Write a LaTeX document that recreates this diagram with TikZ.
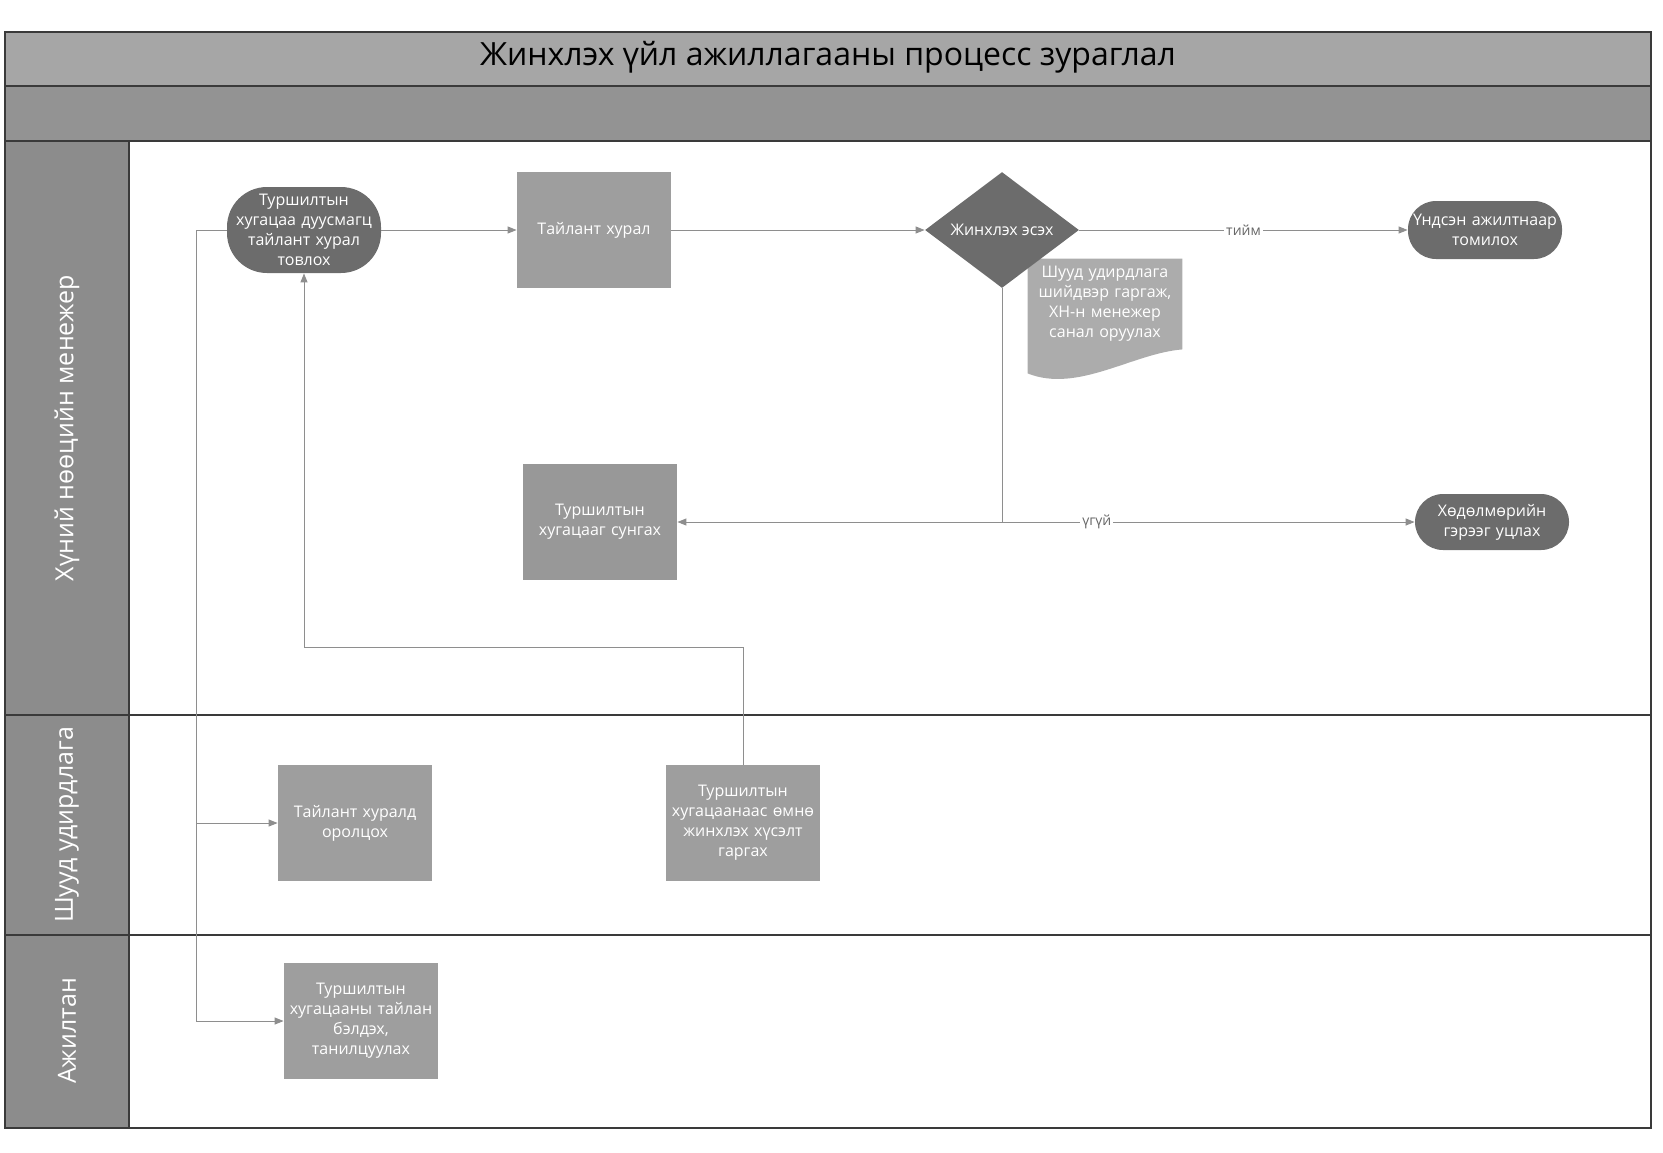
\documentclass[tikz,border=0pt]{standalone}
\usepackage{fontspec}
\setmainfont{Open Sans}
\usetikzlibrary{positioning,shapes.geometric,arrows.meta,backgrounds}

\definecolor{hdrgray}{HTML}{A6A6A6}
\definecolor{bandgray}{HTML}{939393}
\definecolor{lanegray}{HTML}{8C8C8C}
\definecolor{darknode}{HTML}{6C6C6C}
\definecolor{boxgray}{HTML}{9E9E9E}
\definecolor{docgray}{HTML}{ACACAC}
\definecolor{wiregray}{HTML}{8E8E8E}
\definecolor{edgegray}{HTML}{3A3A3A}

\begin{document}
\begin{tikzpicture}[
  x=0.5pt, y=-0.5pt,
  proc/.style={fill=boxgray, text=white, align=center,
               font=\fontsize{8}{10}\selectfont, inner sep=0.5pt,
               text width=76pt, minimum width=77pt, minimum height=58pt},
  term/.style={proc, fill=darknode},
  dec/.style={diamond, fill=darknode, text=white, align=center,
              font=\fontsize{8}{10}\selectfont, inner sep=0pt,
              minimum width=77pt, minimum height=58pt},
  lanelbl/.style={rotate=90, text=white, font=\fontsize{12.5}{14}\selectfont},
  lbl/.style={fill=white, text=black!60, inner sep=1pt,
              font=\fontsize{7}{8}\selectfont},
  wire/.style={draw=wiregray, line width=0.5pt,
               -{Triangle[length=4.5pt,width=3.5pt]}},
  divider/.style={draw=edgegray, line width=0.9pt}
]
\useasboundingbox (0,0) rectangle (1663,1152);

% lanes and header
\fill[hdrgray] (5,32) rectangle (1651,86);
\fill[bandgray] (5,86) rectangle (1651,141);
\fill[lanegray] (5,141) rectangle (129,1128);
\draw[divider] (5,32) rectangle (1651,1128);
\draw[divider] (5,86) -- (1651,86);
\draw[divider] (5,141) -- (1651,141);
\draw[divider] (129,141) -- (129,1128);
\draw[divider] (5,715) -- (1651,715);
\draw[divider] (5,935) -- (1651,935);
\node[font=\fontsize{16}{18}\selectfont] (title) at (828,57)
  {Жинхлэх үйл ажиллагааны процесс зураглал};
\node[lanelbl] (hrlane) at (67,428) {Хүний нөөцийн менежер};
\node[lanelbl] (bosslane) at (67,825) {Шууд удирдлага};
\node[lanelbl] (staffl) at (67,1031) {Ажилтан};

% nodes
\node[term, rounded corners=20pt, minimum height=43pt] (plan) at (304,230)
  {Туршилтын\\хугацаа дуусмагц\\тайлант хурал\\товлох};
\node[proc] (meet) at (594,230) {Тайлант хурал};
\node[dec] (decide) at (1002,230) {Жинхлэх эсэх};
\node[term, rounded corners=14pt, minimum height=29pt] (hire) at (1485,230)
  {Үндсэн ажилтнаар\\томилох};
\node[proc, fill=none, minimum height=45pt] (doc) at (1105,304)
  {Шууд удирдлага\\шийдвэр гаргаж,\\ХН-н менежер\\санал оруулах};
\node[proc, fill=bandgray!95] (extend) at (600,522)
  {Туршилтын\\хугацааг сунгах};
\node[term, rounded corners=14pt, minimum height=28pt] (fire) at (1492,522)
  {Хөдөлмөрийн\\гэрээг уцлах};
\node[proc] (attend) at (355,823) {Тайлант хуралд\\оролцох};
\node[proc] (request) at (743,823)
  {Туршилтын\\хугацаанаас өмнө\\жинхлэх хүсэлт\\гаргах};
\node[proc] (report) at (361,1021)
  {Туршилтын\\хугацааны тайлан\\бэлдэх,\\танилцуулах};

\begin{pgfonlayer}{background}
\fill[docgray] (doc.north west) -- (doc.north east) -- (doc.south east)
  .. controls ([xshift=-25pt,yshift=-2pt]doc.south east)
  and ([xshift=25pt,yshift=-22pt]doc.south west)
  .. ([yshift=-12pt]doc.south west) -- cycle;
\end{pgfonlayer}

% connectors
\coordinate (split) at (decide |- extend);
\coordinate (rail) at (196,230);
\coordinate (back) at (743,647);
\draw[wire] (plan) -- (meet);
\draw[wire] (meet) -- (decide);
\draw[wire] (decide) -- node[lbl] {тийм} (hire);
\draw[draw=wiregray, line width=0.5pt] (decide.south) -- (split);
\draw[wire] (split) -- (extend);
\draw[wire] (split) -- node[lbl, pos=0.23] {үгүй} (fire);
\draw[wire] (plan.west) -- (rail) |- (attend.west);
\draw[wire] (rail) |- (report.west);
\draw[wire] (request.north) -- (back) -| (plan.south);
\end{tikzpicture}
\end{document}
